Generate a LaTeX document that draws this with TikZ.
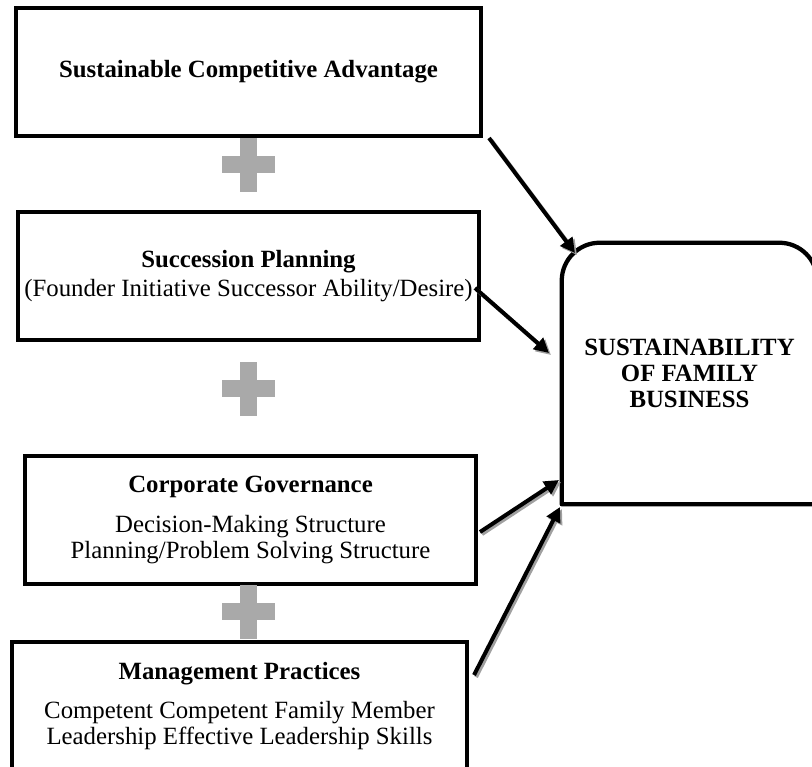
\documentclass[tikz,border=0pt]{standalone}
\usepackage{fontspec}
\setmainfont{Liberation Serif}
\usetikzlibrary{arrows.meta}
\definecolor{plusgrey}{HTML}{A9A9A9}
\definecolor{shadowgrey}{HTML}{A0A0A0}
\tikzset{
  box/.style={draw=black, line width=3.4pt, rectangle, inner sep=0pt, align=center,
    font=\fontsize{18.6}{19.5}\selectfont},
  conn/.style={line width=3pt, -{Triangle[length=11pt,width=11pt]}},
  connshadow/.style={conn, draw=shadowgrey, transform canvas={xshift=1.5pt,yshift=-1.5pt}},
  plussign/.pic={
    \fill[plusgrey] (-8.5,-27) rectangle (8.5,27);
    \fill[plusgrey] (-26.5,-8.5) rectangle (26.5,8.5);
  }
}
\begin{document}
\begin{tikzpicture}[x=0.75pt,y=-0.75pt]
\useasboundingbox (0,0) rectangle (812,766);
\clip (0,0) rectangle (812,766);

% left boxes
\node[box, minimum width=348.75pt, minimum height=96pt] (sca) at (248.5,72)
  {\textbf{Sustainable Competitive Advantage}};
\node[box, minimum width=345.75pt, minimum height=96pt] (sp) at (248.5,276)
  {\textbf{Succession Planning}\\[2pt](Founder Initiative Successor Ability/Desire)};
\node[box, minimum width=338.25pt, minimum height=96pt] (cg) at (250.5,520)
  {\textbf{Corporate Governance}\\[10pt]Decision-Making Structure\\Planning/Problem Solving Structure};
\node[box, minimum width=341.25pt, minimum height=96pt] (mp) at (239.5,706)
  {\textbf{Management Practices}\\[10pt]Competent Competent Family Member\\Leadership Effective Leadership Skills};

% plus signs
\pic at (248.5,165) {plussign};
\pic at (248.5,388.5) {plussign};
\pic at (248.5,611.5) {plussign};

% target box (rounded top corners), right side runs just past the page edge
\node[box, draw=none, minimum width=188.25pt, minimum height=192.75pt] (sfb) at (689.5,373.5)
  {\textbf{SUSTAINABILITY}\\\textbf{OF FAMILY}\\\textbf{BUSINESS}};
\draw[line width=3.2pt, line join=round]
  (sfb.south east) -- (sfb.south west) -- ([yshift=-28.5pt]sfb.north west)
  arc[start angle=180, end angle=90, radius=28.5pt]
  -- ([xshift=-28.5pt]sfb.north east)
  arc[start angle=90, end angle=0, radius=28.5pt] -- cycle;

% connector end points
\coordinate (a1s) at (489,138);
\coordinate (a1e) at (575,253);
\coordinate (a2s) at (475,288);
\coordinate (a2e) at (549,353);
\coordinate (a3s) at (480,532);
\coordinate (a3e) at (559,480);
\coordinate (a4s) at (474,675);
\coordinate (a4e) at (560,507);

% shadows
\draw[connshadow] (a1s) -- (a1e);
\draw[connshadow] (a2s) -- (a2e);
\draw[connshadow] (a3s) -- (a3e);
\draw[connshadow] (a4s) -- (a4e);
% arrows
\draw[conn] (a1s) -- (a1e);
\draw[conn] (a2s) -- (a2e);
\draw[conn] (a3s) -- (a3e);
\draw[conn] (a4s) -- (a4e);
\end{tikzpicture}
\end{document}
